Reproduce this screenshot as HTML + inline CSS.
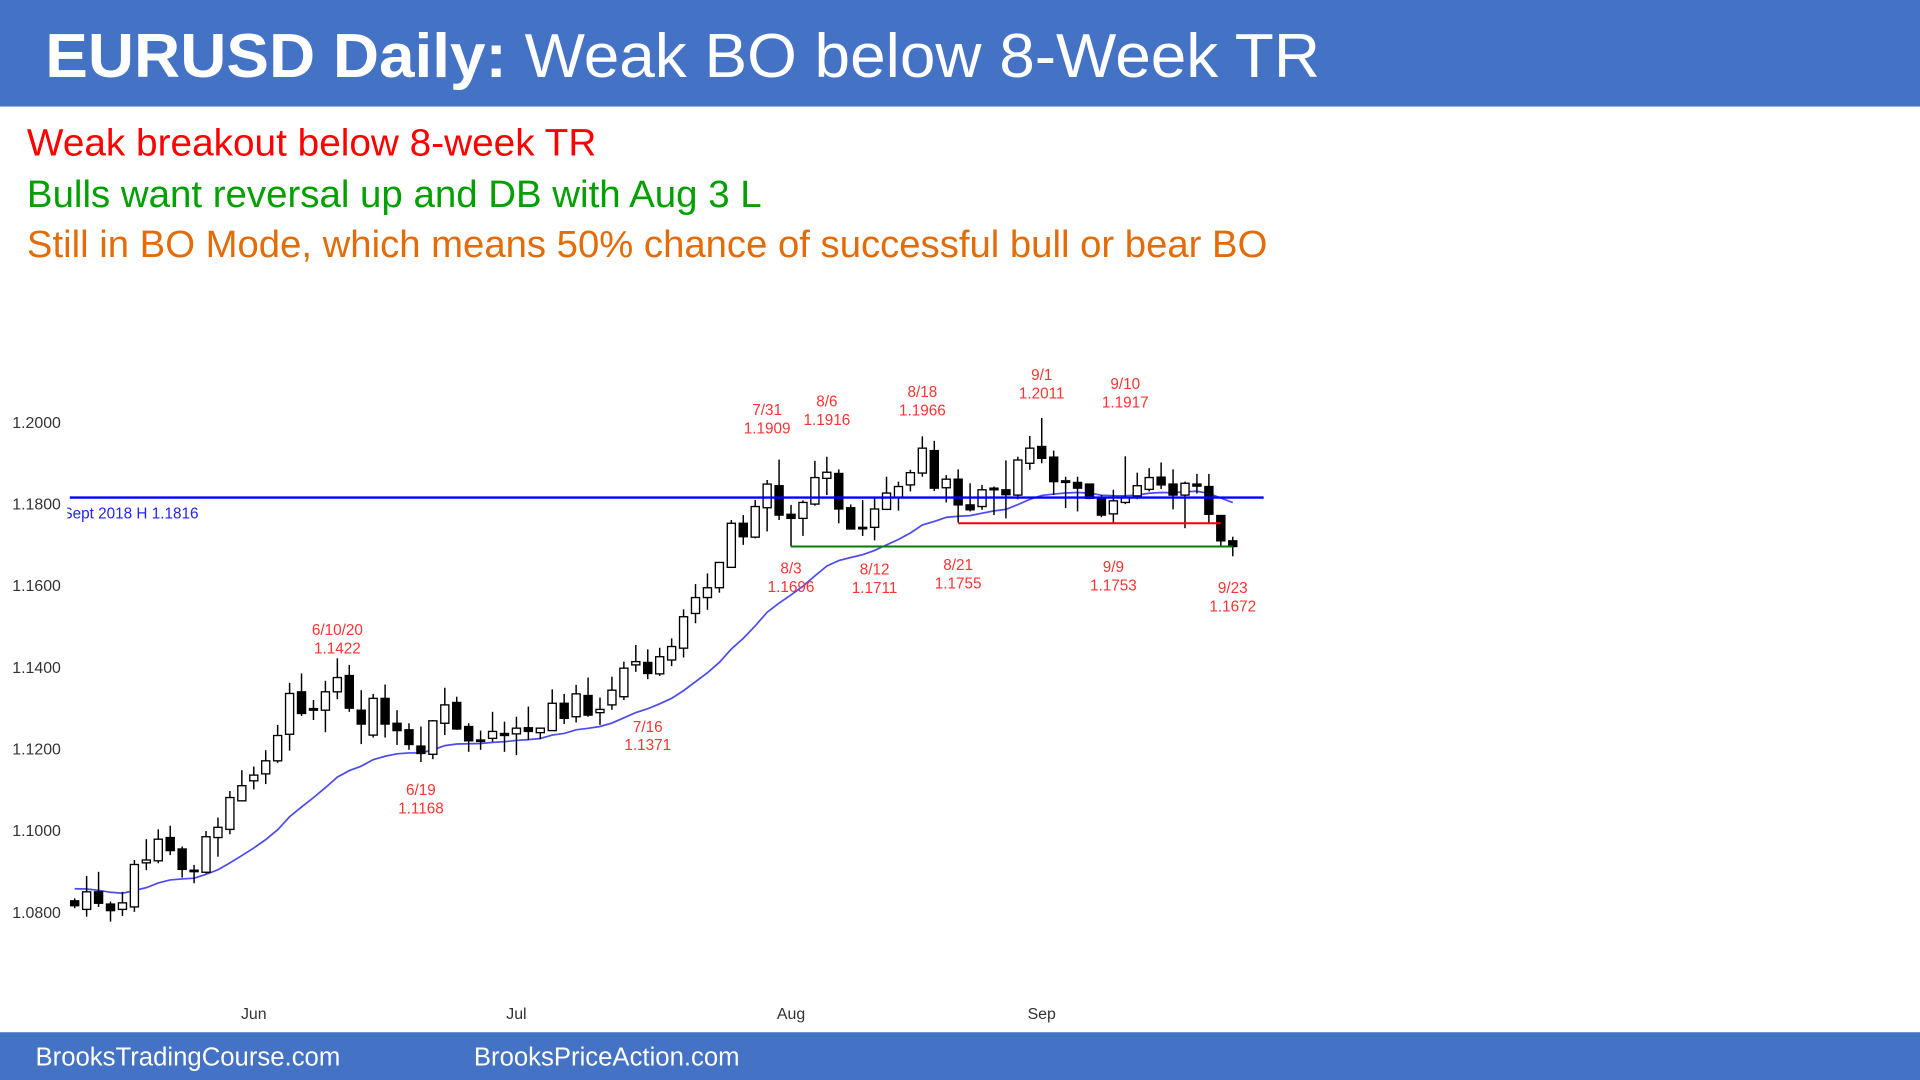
<!DOCTYPE html>
<html><head><meta charset="utf-8">
<style>
html,body{margin:0;padding:0;background:#fff;}
svg{display:block;}
text{font-family:"Liberation Sans",Arial,sans-serif;}
</style></head>
<body>
<svg id="chart" width="1920" height="1080" viewBox="0 0 1568 882" xmlns="http://www.w3.org/2000/svg">
  <defs><clipPath id="lblclip"><rect x="55" y="380" width="300" height="60"/></clipPath></defs>
  <rect x="0" y="0" width="1568" height="882" fill="#fff"/>
  <rect x="0" y="0" width="1568" height="87" fill="#4472C4"/>
  <text x="37" y="63" font-size="51" fill="#fff" textLength="1041" lengthAdjust="spacingAndGlyphs"><tspan font-weight="bold">EURUSD Daily:</tspan> Weak BO below 8-Week TR</text>
  <text x="22" y="127" font-size="31" fill="#FF0000" textLength="465" lengthAdjust="spacingAndGlyphs">Weak breakout below 8-week TR</text>
  <text x="22" y="169" font-size="31" fill="#00A000" textLength="600" lengthAdjust="spacingAndGlyphs">Bulls want reversal up and DB with Aug 3 L</text>
  <text x="22" y="210" font-size="31" fill="#E36C09" textLength="1013" lengthAdjust="spacingAndGlyphs">Still in BO Mode, which means 50% chance of successful bull or bear BO</text>
  <g id="axes"></g>
  <g id="plot"></g>
  <rect x="0" y="843" width="1568" height="39" fill="#4472C4"/>
  <text x="29" y="870" font-size="21" fill="#fff">BrooksTradingCourse.com</text>
  <text x="387" y="870" font-size="21" fill="#fff">BrooksPriceAction.com</text>
</svg>
<script>
// ---- data ----
const opens  = [1.0828,1.0807,1.0850,1.0820,1.0807,1.0813,1.0921,1.0926,1.0983,1.0955,1.0903,1.0898,1.0983,1.1003,1.1073,1.1122,1.1139,1.1171,1.1236,1.1340,1.1299,1.1295,1.1340,1.1380,1.1295,1.1234,1.1324,1.1263,1.1247,1.1207,1.1187,1.1263,1.1314,1.1255,1.1222,1.1226,1.1238,1.1237,1.1252,1.1240,1.1245,1.1312,1.1279,1.1331,1.1289,1.1308,1.1328,1.1406,1.1412,1.1384,1.1418,1.1447,1.1532,1.1571,1.1595,1.1645,1.1753,1.1719,1.1791,1.1845,1.1775,1.1765,1.1800,1.1863,1.1875,1.1791,1.1743,1.1743,1.1787,1.1816,1.1847,1.1876,1.1931,1.1840,1.1861,1.1798,1.1794,1.1839,1.1835,1.1822,1.1900,1.1941,1.1915,1.1857,1.1853,1.1849,1.1817,1.1776,1.1804,1.1820,1.1836,1.1866,1.1849,1.1822,1.1849,1.1843,1.1772,1.1710];
const highs  = [1.0834,1.0889,1.0899,1.0826,1.0850,1.0928,1.0979,1.1003,1.1012,1.0961,1.0916,1.0999,1.1032,1.1097,1.1148,1.1157,1.1197,1.1259,1.1362,1.1385,1.1320,1.1367,1.1422,1.1406,1.1344,1.1335,1.1358,1.1295,1.1263,1.1255,1.1271,1.1350,1.1328,1.1263,1.1245,1.1291,1.1267,1.1279,1.1304,1.1251,1.1346,1.1335,1.1357,1.1375,1.1326,1.1377,1.1414,1.1455,1.1444,1.1448,1.1471,1.1542,1.1604,1.1630,1.1657,1.1761,1.1773,1.1810,1.1859,1.1909,1.1798,1.1809,1.1906,1.1916,1.1885,1.1799,1.1810,1.1814,1.1867,1.1855,1.1884,1.1966,1.1955,1.1871,1.1885,1.1851,1.1847,1.1843,1.1907,1.1916,1.1967,1.2011,1.1931,1.1867,1.1867,1.1849,1.1822,1.1835,1.1917,1.1877,1.1888,1.1902,1.1885,1.1855,1.1874,1.1874,1.1772,1.1720];
const lows   = [1.0810,1.0789,1.0813,1.0777,1.0791,1.0801,1.0903,1.0920,1.0940,1.0885,1.0871,1.0895,1.0936,1.0991,1.1073,1.1101,1.1114,1.1166,1.1196,1.1281,1.1271,1.1241,1.1322,1.1291,1.1212,1.1228,1.1228,1.1210,1.1198,1.1168,1.1175,1.1234,1.1247,1.1193,1.1198,1.1218,1.1193,1.1185,1.1222,1.1224,1.1245,1.1261,1.1265,1.1279,1.1259,1.1296,1.1320,1.1389,1.1371,1.1379,1.1403,1.1424,1.1508,1.1541,1.1583,1.1645,1.1700,1.1716,1.1733,1.1761,1.1696,1.1722,1.1796,1.1822,1.1753,1.1739,1.1722,1.1711,1.1787,1.1784,1.1831,1.1867,1.1832,1.1804,1.1755,1.1782,1.1786,1.1773,1.1765,1.1812,1.1884,1.1900,1.1822,1.1790,1.1782,1.1812,1.1768,1.1753,1.1800,1.1812,1.1831,1.1837,1.1787,1.1741,1.1826,1.1753,1.1696,1.1672];
const closes = [1.0816,1.0850,1.0822,1.0804,1.0823,1.0917,1.0928,1.0979,1.0951,1.0905,1.0900,1.0985,1.1008,1.1081,1.1110,1.1136,1.1171,1.1233,1.1336,1.1287,1.1295,1.1340,1.1375,1.1300,1.1261,1.1324,1.1261,1.1245,1.1211,1.1189,1.1269,1.1308,1.1249,1.1220,1.1219,1.1243,1.1233,1.1251,1.1243,1.1251,1.1312,1.1275,1.1335,1.1283,1.1297,1.1344,1.1398,1.1414,1.1385,1.1426,1.1451,1.1524,1.1571,1.1595,1.1657,1.1753,1.1720,1.1794,1.1849,1.1773,1.1765,1.1804,1.1865,1.1878,1.1788,1.1739,1.1741,1.1788,1.1827,1.1843,1.1877,1.1937,1.1839,1.1861,1.1798,1.1786,1.1835,1.1835,1.1823,1.1908,1.1937,1.1912,1.1855,1.1853,1.1839,1.1814,1.1773,1.1808,1.1817,1.1845,1.1865,1.1847,1.1822,1.1851,1.1844,1.1775,1.1710,1.1696];
const yTicks = [1.2000, 1.1800, 1.1600, 1.1400, 1.1200, 1.1000, 1.0800];
const monthLabels = ["Jun", "Jul", "Aug", "Sep"];
const monthIndex = [15, 37, 60, 81];
const emaSeed = 1.0862;
const sept2018High = 1.1816;
const redLineLevel = 1.1753, redStart = 74, redEnd = 96;
const greenLineLevel = 1.1696, greenStart = 60, greenEnd = 97;
const annDates  = ["6/10/20","6/19","7/16","7/31","8/6","8/18","9/1","9/10","8/3","8/12","8/21","9/9","9/23"];
const annValues = ["1.1422","1.1168","1.1371","1.1909","1.1916","1.1966","1.2011","1.1917","1.1696","1.1711","1.1755","1.1753","1.1672"];
const annIndex  = [22, 29, 48, 58, 63, 71, 81, 88, 60, 67, 74, 87, 97];
const annAbove  = [true, false, false, true, true, true, true, true, false, false, false, false, false];
const annOffset = [18, 5, 21, -16, -4, 5, 6, -18, 0, 6, 17, 18, 8];

// ---- axes ----
const X0 = 61, DX = 9.75;
function xPos(i){ return X0 + i*DX; }
function yPos(p){ return 345 + (1.2 - p) * 3333.33; }
const NS = "http://www.w3.org/2000/svg";
function mk(tag, attrs, parent){ const e=document.createElementNS(NS,tag); for(const k in attrs) e.setAttribute(k, attrs[k]); parent.appendChild(e); return e; }
const axes = document.getElementById('axes');
const plot = document.getElementById('plot');

yTicks.forEach(t => {
  const e = mk('text', {x:10, y:yPos(t)+4.5, 'font-size':13, fill:'#333'}, axes);
  
  
  e.textContent = t.toFixed(4);
});
monthLabels.forEach((m, k) => {
  const e = mk('text', {x:xPos(monthIndex[k]), y:832, 'font-size':13, fill:'#333', 'text-anchor':'middle'}, axes);
  
  
  e.textContent = m;
});

// EMA 20 derived from closes
const ema = []; let prev = emaSeed; const kf = 2/21;
closes.forEach(c => { prev = prev + kf*(c - prev); ema.push(prev); });
let d = ema.map((v,i) => (i?'L':'M') + xPos(i).toFixed(1) + ' ' + yPos(v).toFixed(1)).join(' ');
const emaPath = mk('path', {d:d, fill:'none', stroke:'#4B4BF0', 'stroke-width':1.4}, plot);



// candles
opens.forEach((o, i) => {
  const c = closes[i], h = highs[i], l = lows[i], x = xPos(i);
  const g = mk('g', {}, plot);
  
  
  mk('line', {x1:x, x2:x, y1:yPos(h), y2:yPos(l), stroke:'#000', 'stroke-width':1.2}, g);
  const top = yPos(Math.max(o,c)), bot = yPos(Math.min(o,c));
  mk('rect', {x:x-3.3, y:top, width:6.6, height:Math.max(bot-top,1.2), fill: c>=o ? '#fff' : '#000', stroke:'#000', 'stroke-width':1.1}, g);
});

// horizontal lines
const bl = mk('line', {x1:57, x2:1032, y1:yPos(sept2018High), y2:yPos(sept2018High), stroke:'#0000FF', 'stroke-width':2}, plot);


const blt = mk('text', {x:51, y:yPos(sept2018High)+17, 'font-size':12.5, fill:'#2222FF', 'clip-path':'url(#lblclip)'}, plot);


blt.textContent = 'Sept 2018 H 1.1816';
const rl = mk('line', {x1:xPos(redStart), x2:xPos(redEnd), y1:yPos(redLineLevel), y2:yPos(redLineLevel), stroke:'#FF0000', 'stroke-width':1.6}, plot);


const gl = mk('line', {x1:xPos(greenStart), x2:xPos(greenEnd), y1:yPos(greenLineLevel), y2:yPos(greenLineLevel), stroke:'#008000', 'stroke-width':1.6}, plot);



// annotations
annDates.forEach((dt, k) => {
  const i = annIndex[k], x = xPos(i);
  let y1, y2;
  if (annAbove[k]) { y2 = yPos(highs[i]) - 22; y1 = y2 - 15; }
  else { y1 = yPos(lows[i]) + 22; y2 = y1 + 15; }
  y1 += annOffset[k]; y2 += annOffset[k];
  const t1 = mk('text', {x:x, y:y1, 'font-size':12.5, fill:'#FF3333', 'text-anchor':'middle'}, plot);
  
  
  t1.textContent = dt;
  const t2 = mk('text', {x:x, y:y2, 'font-size':12.5, fill:'#FF3333', 'text-anchor':'middle'}, plot);
  
  
  t2.textContent = annValues[k];
});
</script>
</body></html>
